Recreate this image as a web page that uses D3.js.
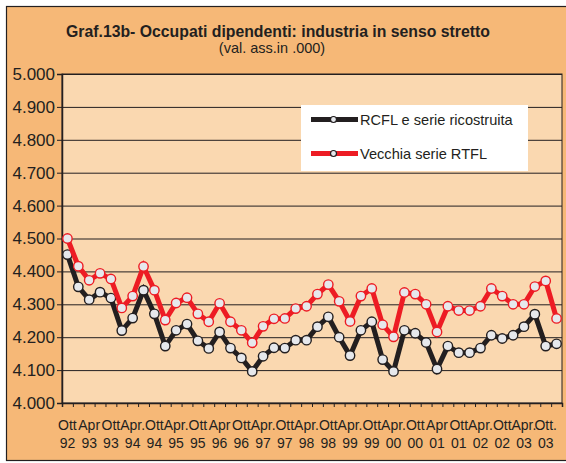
<!DOCTYPE html>
<html>
<head>
<meta charset="utf-8">
<script src="https://cdn.jsdelivr.net/npm/d3@7"></script>
<style>
  html, body { margin: 0; padding: 0; background: #ffffff; }
  svg { display: block; }
  text { font-family: "Liberation Sans", Arial, sans-serif; fill: #231f20; }
</style>
</head>
<body>
<svg id="chart" width="566" height="463"></svg>
<script>
// Quarterly categories, Ott 1992 - Gen 2004
const quarters = [
  "Ott 92",
  "Gen 93","Apr 93","Lug 93","Ott 93",
  "Gen 94","Apr 94","Lug 94","Ott 94",
  "Gen 95","Apr 95","Lug 95","Ott 95",
  "Gen 96","Apr 96","Lug 96","Ott 96",
  "Gen 97","Apr 97","Lug 97","Ott 97",
  "Gen 98","Apr 98","Lug 98","Ott 98",
  "Gen 99","Apr 99","Lug 99","Ott 99",
  "Gen 00","Apr 00","Lug 00","Ott 00",
  "Gen 01","Apr 01","Lug 01","Ott 01",
  "Gen 02","Apr 02","Lug 02","Ott 02",
  "Gen 03","Apr 03","Lug 03","Ott 03",
  "Gen 04"
];

// RCFL e serie ricostruita (migliaia)
const rcfl = [
  4451, 4353, 4314, 4337, 4319, 4220, 4258, 4343, 4271, 4173,
  4221, 4240, 4189, 4166, 4216, 4167, 4137, 4096, 4142, 4168,
  4167, 4191, 4191, 4232, 4262, 4200, 4144, 4221, 4247, 4132,
  4096, 4221, 4212, 4184, 4103, 4173, 4153, 4153, 4167, 4206,
  4196, 4206, 4232, 4270, 4173, 4180
];

// Vecchia serie RTFL (migliaia)
const rtfl = [
  4500, 4416, 4373, 4394, 4377, 4289, 4325, 4415, 4343, 4252,
  4304, 4320, 4271, 4247, 4303, 4247, 4221, 4183, 4233, 4256,
  4257, 4287, 4294, 4331, 4360, 4309, 4248, 4325, 4348, 4238,
  4201, 4336, 4331, 4300, 4216, 4294, 4281, 4281, 4294, 4348,
  4325, 4300, 4300, 4354, 4371, 4257
];

// Axis labels (one every two quarters)
const tickMonths = ["Ott","Apr","Ott","Apr.","Ott","Apr.","Ott","Apr","Ott","Apr.","Ott","Apr.",
                    "Ott","Apr.","Ott","Apr.","Ott","Apr","Ott","Apr.","Ott","Apr.","Ott."];
const tickYears  = ["92","93","93","94","94","95","95","96","96","97","97","98",
                    "98","99","99","00","00","01","01","02","02","03","03"];
const yTicks = [4000, 4100, 4200, 4300, 4400, 4500, 4600, 4700, 4800, 4900, 5000];

const seriesNames = ["RCFL e serie ricostruita", "Vecchia serie RTFL"];
const titleText = "Graf.13b- Occupati dipendenti: industria in senso stretto";
const subtitleText = "(val. ass.in .000)";

const colors = { frame: "#f6b877", plot: "#fad8b0", ink: "#231f20",
                 black: "#231f20", red: "#ed1c24", marker: "#e6e8ec" };

const svg = d3.select("#chart");
const plotL = 62, plotR = 562, plotT = 74, plotB = 403;

// outer frame
svg.append("rect")
  .attr("x", 6.5).attr("y", 6.5).attr("width", 570).attr("height", 454)
  .attr("fill", colors.frame).attr("stroke", colors.ink).attr("stroke-width", 1.2);

// title
svg.append("text").attr("x", 278).attr("y", 37).attr("text-anchor", "middle")
  .attr("font-size", 15.8).attr("font-weight", "bold").text(titleText);
svg.append("text").attr("x", 272).attr("y", 53).attr("text-anchor", "middle")
  .attr("font-size", 14.5).text(subtitleText);

const x = d3.scaleBand().domain(quarters).range([plotL, plotR]).padding(0);
const xi = d3.scaleLinear().domain([0, quarters.length]).range([plotL, plotR]);
const y = d3.scaleLinear().domain([4000, 5000]).range([plotB, plotT]);
const cx = q => x(q) + x.bandwidth() / 2;

// plot area
svg.append("rect").attr("x", plotL).attr("y", plotT)
  .attr("width", plotR - plotL).attr("height", plotB - plotT)
  .attr("fill", colors.plot).attr("stroke", colors.ink).attr("stroke-width", 1);

// grid lines
const grid = svg.append("g").attr("transform", `translate(${plotL},0)`)
  .call(d3.axisLeft(y).tickValues(yTicks).tickSize(-(plotR - plotL)).tickFormat(""));
grid.select(".domain").remove();
grid.selectAll("line").attr("stroke", colors.ink).attr("stroke-width", 1);

// y axis
const itFmt = d3.formatLocale({ decimal: ",", thousands: ".", grouping: [3], currency: ["", "€"] }).format(",.0f");
const yAxis = svg.append("g").attr("transform", `translate(${plotL},0)`)
  .call(d3.axisLeft(y).tickValues(yTicks).tickSize(5).tickPadding(2).tickFormat(itFmt));
yAxis.select(".domain").attr("stroke", colors.ink).attr("stroke-width", 1.5);
yAxis.selectAll("line").attr("stroke", colors.ink);
yAxis.selectAll("text").attr("font-size", 17).attr("fill", colors.ink)
  .style("font-family", "Liberation Sans, Arial, sans-serif");

// x axis: ticks at quarter boundaries
const xAxis = svg.append("g").attr("transform", `translate(0,${plotB})`)
  .call(d3.axisBottom(xi).tickValues(d3.range(quarters.length + 1)).tickSize(4).tickFormat(""));
xAxis.select(".domain").attr("stroke", colors.ink).attr("stroke-width", 1.5);
xAxis.selectAll("line").attr("stroke", colors.ink);

const labels = svg.append("g").attr("font-size", 14).attr("text-anchor", "middle");
tickMonths.forEach((m, k) => {
  const q = quarters[2 * k];
  labels.append("text").attr("x", cx(q)).attr("y", 430).text(m);
  labels.append("text").attr("x", cx(q)).attr("y", 448).text(tickYears[k]);
});

// series
const line = d3.line().x((d, i) => cx(quarters[i])).y(d => y(d));
const series = [
  { values: rcfl, color: colors.black },
  { values: rtfl, color: colors.red }
];
series.forEach(s => {
  svg.append("path").datum(s.values).attr("d", line)
    .attr("fill", "none").attr("stroke", s.color).attr("stroke-width", 5)
    .attr("stroke-linejoin", "miter");
  svg.append("g").selectAll("circle").data(s.values).join("circle")
    .attr("cx", (d, i) => cx(quarters[i])).attr("cy", d => y(d)).attr("r", 4.7)
    .attr("fill", colors.marker).attr("stroke", s.color).attr("stroke-width", 1.4);
});

// legend
const lg = svg.append("g");
lg.append("rect").attr("x", 301).attr("y", 105).attr("width", 227).attr("height", 66).attr("fill", "#ffffff");
series.forEach((s, i) => {
  const ly = 119.5 + i * 34;
  lg.append("line").attr("x1", 311).attr("x2", 358).attr("y1", ly).attr("y2", ly)
    .attr("stroke", s.color).attr("stroke-width", 5);
  lg.append("circle").attr("cx", 333.5).attr("cy", ly).attr("r", 3)
    .attr("fill", colors.marker).attr("stroke", colors.black).attr("stroke-width", 1.2);
  lg.append("text").attr("x", 360).attr("y", ly + 5.5).attr("font-size", 14.6).text(seriesNames[i]);
});
</script>
</body>
</html>
